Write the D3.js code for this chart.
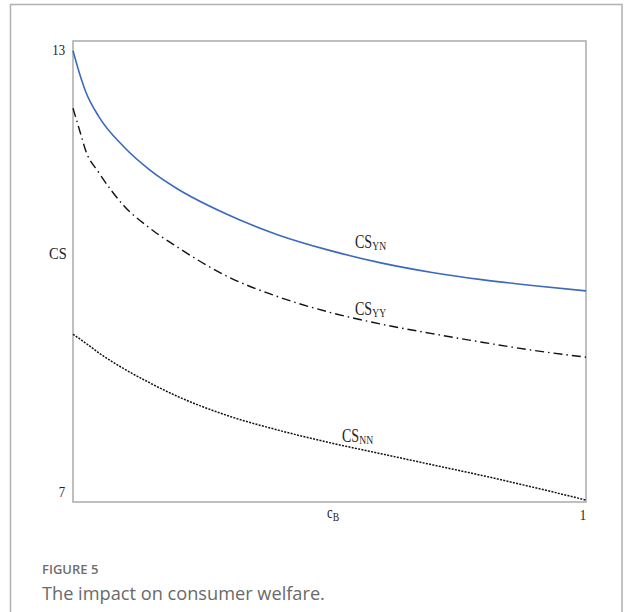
<!DOCTYPE html>
<html>
<head>
<meta charset="utf-8">
<script src="https://cdn.jsdelivr.net/npm/d3@7"></script>
<style>
  html, body { margin: 0; padding: 0; background: #fff; }
  svg { display: block; }
</style>
</head>
<body>
<svg id="chart" width="625" height="612"></svg>
<script>
// Consumer surplus under the three regimes, as a function of c_B
const cB   = [0, 0.015, 0.025, 0.05, 0.1, 0.15, 0.2, 0.3, 0.4, 0.5, 0.6, 0.7, 0.8, 0.9, 1];
const csYN = [12.99, 12.63, 12.43, 12.10, 11.68, 11.37, 11.13, 10.77, 10.49, 10.28, 10.11, 9.98, 9.88, 9.80, 9.73];
const csYY = [12.21, 11.86, 11.63, 11.34, 10.88, 10.58, 10.34, 9.93, 9.65, 9.44, 9.28, 9.15, 9.03, 8.92, 8.83];
const csNN = [9.14, 9.07, 9.02, 8.89, 8.67, 8.48, 8.31, 8.04, 7.84, 7.67, 7.52, 7.37, 7.22, 7.06, 6.89];

const yTicks = [7, 13];
const xTicks = [1];

const svg = d3.select("#chart");

// figure card
svg.append("rect")
  .attr("x", 10.5).attr("y", 4.5)
  .attr("width", 611.5).attr("height", 640)
  .attr("fill", "#fff").attr("stroke", "#b4b4b4").attr("stroke-width", 1.6);

const frame = { left: 73, right: 586, top: 41, bottom: 502 };

const x = d3.scaleLinear().domain([0, 1]).range([frame.left, frame.right]);
const y = d3.scaleLinear().domain([7, 13]).range([492, 50]);

// plot frame
svg.append("rect")
  .attr("x", frame.left).attr("y", frame.top)
  .attr("width", frame.right - frame.left).attr("height", frame.bottom - frame.top)
  .attr("fill", "none").attr("stroke", "#b0b0b0").attr("stroke-width", 1.6);

const serif = "'Liberation Serif', 'DejaVu Serif', serif";

// narrow, tall serif text (label glyphs are horizontally condensed)
function condensed(px, py, size, sx) {
  return svg.append("text")
    .attr("transform", `translate(${px},${py}) scale(${sx},1)`)
    .attr("font-family", serif).attr("font-size", size).attr("fill", "#222");
}

// y tick labels
svg.append("g").selectAll("text").data(yTicks).join("text")
  .attr("transform", d => `translate(65,${y(d)}) scale(0.85,1)`)
  .attr("dy", "0.35em")
  .attr("text-anchor", "end")
  .attr("font-family", serif).attr("font-size", 15).attr("fill", "#222")
  .text(d => d);

// x tick labels
svg.append("g").selectAll("text").data(xTicks).join("text")
  .attr("transform", d => `translate(${x(d) - 3},520) scale(0.85,1)`)
  .attr("text-anchor", "middle")
  .attr("font-family", serif).attr("font-size", 15).attr("fill", "#222")
  .text(d => d);

// axis titles
condensed(49, 259, 17, 0.85).text("CS");

const xt = condensed(327, 518, 16, 0.8);
xt.append("tspan").text("c");
xt.append("tspan").attr("font-size", 12).attr("dy", 3).text("B");

// curves
const line = d3.line()
  .x(d => x(d[0])).y(d => y(d[1]))
  .curve(d3.curveMonotoneX);

svg.append("path")
  .datum(d3.zip(cB, csYN))
  .attr("d", line)
  .attr("fill", "none").attr("stroke", "#3a69bd").attr("stroke-width", 1.6);

svg.append("path")
  .datum(d3.zip(cB, csYY))
  .attr("d", line)
  .attr("fill", "none").attr("stroke", "#111").attr("stroke-width", 1.4)
  .attr("stroke-dasharray", "9,4,1.5,4");

svg.append("path")
  .datum(d3.zip(cB, csNN))
  .attr("d", line)
  .attr("fill", "none").attr("stroke", "#111").attr("stroke-width", 1.5)
  .attr("stroke-dasharray", "2,1.3");

// series labels
const seriesLabels = [
  { sub: "YN", x: 355, y: 248 },
  { sub: "YY", x: 355, y: 315 },
  { sub: "NN", x: 342, y: 442 }
];
seriesLabels.forEach(s => {
  const t = condensed(s.x, s.y, 19, 0.74);
  t.append("tspan").text("CS");
  t.append("tspan").attr("font-size", 13).attr("dy", 2).text(s.sub);
});

// caption
svg.append("text")
  .attr("x", 42).attr("y", 574)
  .attr("font-family", "'Open Sans', Lato, sans-serif").attr("font-weight", 600)
  .attr("font-size", 13).attr("fill", "#6e6e6e")
  .text("FIGURE 5");

svg.append("text")
  .attr("x", 42).attr("y", 600)
  .attr("font-family", "'Open Sans', Lato, sans-serif").attr("font-weight", 400)
  .attr("font-size", 18.2).attr("fill", "#6a6a6a")
  .text("The impact on consumer welfare.");
</script>
</body>
</html>
